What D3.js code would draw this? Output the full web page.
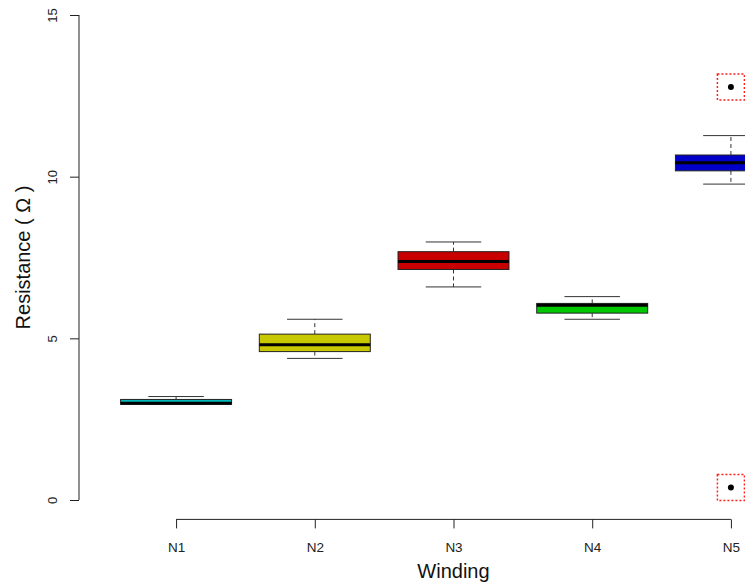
<!DOCTYPE html>
<html><head><meta charset="utf-8">
<script src="https://cdn.jsdelivr.net/npm/d3@7"></script>
<style>body{margin:0;background:#fff}svg{display:block;font-family:"Liberation Sans",Arial,sans-serif}</style>
</head><body>
<svg id="c" width="745" height="582"></svg>
<script>
const categories = ["N1","N2","N3","N4","N5"];
const whiskerLow = [2.96, 4.38, 6.59, 5.59, 9.77];
const q1 = [2.96, 4.59, 7.13, 5.78, 10.18];
const median = [2.99, 4.80, 7.38, 6.02, 10.43];
const q3 = [3.11, 5.13, 7.68, 6.08, 10.67];
const whiskerHigh = [3.20, 5.59, 7.98, 6.29, 11.27];
const colors = ["#00B8B8", "#C8C800", "#C80000", "#00C800", "#0000C8"];
const outliers = [{cat:"N5", v:12.77}, {cat:"N5", v:0.39}];
const yTicks = [0, 5, 10, 15];

const svg = d3.select("#c");
const x = d3.scaleLinear().domain([0.3, 5.7]).range([79, 828]);
const y = d3.scaleLinear().domain([-0.6, 15.6]).range([519.4, -4.4]);
const xi = c => x(categories.indexOf(c) + 1);
const boxW = x(1.4) - x(1);
const capW = boxW / 2;

const g = svg.append("g");
categories.forEach((c, i) => {
  const cx = xi(c);
  g.append("line").attr("x1", cx).attr("x2", cx).attr("y1", y(q3[i])).attr("y2", y(whiskerHigh[i]))
    .attr("stroke", "#333").attr("stroke-width", 1).attr("stroke-dasharray", "4,3");
  g.append("line").attr("x1", cx).attr("x2", cx).attr("y1", y(q1[i])).attr("y2", y(whiskerLow[i]))
    .attr("stroke", "#333").attr("stroke-width", 1).attr("stroke-dasharray", "4,3");
  [whiskerHigh[i], whiskerLow[i]].forEach(v => {
    g.append("line").attr("x1", cx - capW).attr("x2", cx + capW).attr("y1", y(v)).attr("y2", y(v))
      .attr("stroke", "#333").attr("stroke-width", 1);
  });
  g.append("rect").attr("x", cx - boxW).attr("width", 2 * boxW)
    .attr("y", y(q3[i])).attr("height", y(q1[i]) - y(q3[i]))
    .attr("fill", colors[i]).attr("stroke", "#222").attr("stroke-width", 1);
  g.append("line").attr("x1", cx - boxW).attr("x2", cx + boxW).attr("y1", y(median[i])).attr("y2", y(median[i]))
    .attr("stroke", "#000").attr("stroke-width", 3);
});

outliers.forEach(o => {
  const cx = xi(o.cat), cy = y(o.v);
  g.append("circle").attr("cx", cx).attr("cy", cy).attr("r", 3).attr("fill", "#000");
  g.append("rect").attr("x", cx - 13.5).attr("y", cy - 13).attr("width", 27).attr("height", 26)
    .attr("fill", "none").attr("stroke", "#FF2020").attr("stroke-width", 1.5).attr("stroke-dasharray", "2,2");
});

const ya = svg.append("g").attr("transform", "translate(79,0)")
  .call(d3.axisLeft(y).tickValues(yTicks).tickSize(9).tickSizeOuter(0).tickFormat(d3.format("d")));
ya.select(".domain").attr("d", `M0,${y(0)}V${y(15)}`).attr("stroke", "#222");
ya.selectAll(".tick line").attr("stroke", "#222");
ya.selectAll(".tick text").attr("font-size", 13).attr("fill", "#222")
  .attr("transform", "rotate(-90)").attr("x", 0).attr("y", -22).attr("dy", 0)
  .attr("text-anchor", "middle").attr("font-family", "Liberation Sans, Arial, sans-serif");

const xa = svg.append("g").attr("transform", "translate(0,519.4)")
  .call(d3.axisBottom(x).tickValues([1,2,3,4,5]).tickSize(9).tickSizeOuter(0).tickFormat(d => categories[d - 1]));
xa.select(".domain").attr("d", `M${x(1)},0H${x(5)}`).attr("stroke", "#222");
xa.selectAll(".tick line").attr("stroke", "#222");
xa.selectAll(".tick text").attr("font-size", 13.5).attr("fill", "#222").attr("y", 23).attr("dy", "0.71em")
  .attr("font-family", "Liberation Sans, Arial, sans-serif");

svg.append("text").attr("x", 453.5).attr("y", 578).attr("text-anchor", "middle")
  .attr("font-size", 20).attr("fill", "#111").text("Winding");
svg.append("text").attr("transform", `translate(30,257.5) rotate(-90)`).attr("text-anchor", "middle")
  .attr("font-size", 20).attr("fill", "#111").text("Resistance ( Ω )");
</script>
</body></html>
